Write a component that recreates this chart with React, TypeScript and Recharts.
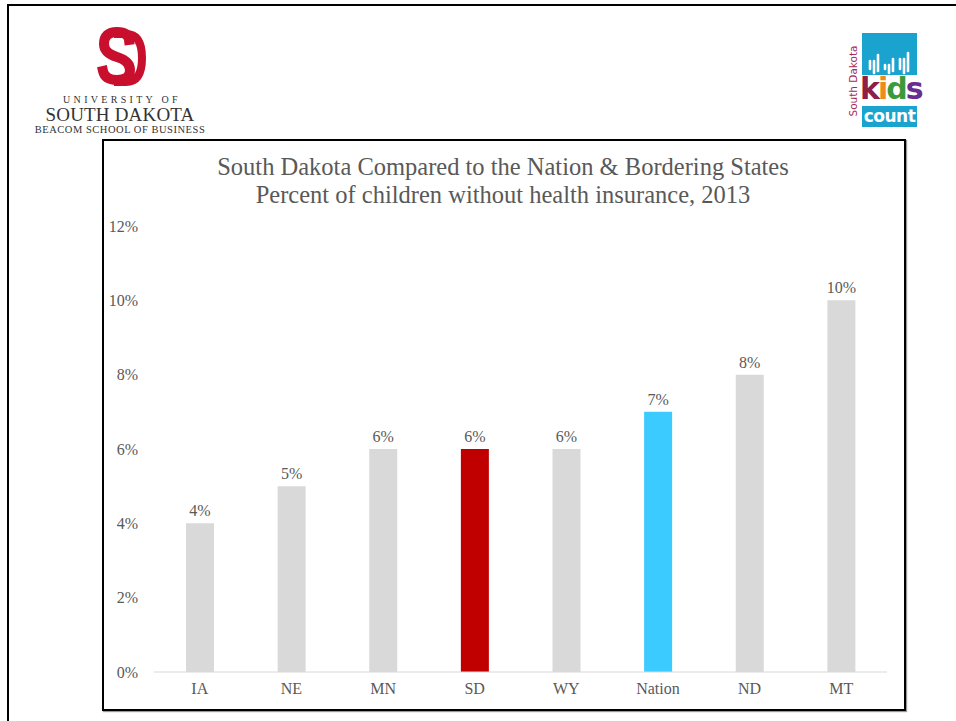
import { BarChart, Bar, XAxis, YAxis, Cell, LabelList } from 'recharts';

const states = ['IA', 'NE', 'MN', 'SD', 'WY', 'Nation', 'ND', 'MT'];
const uninsured = [4, 5, 6, 6, 6, 7, 8, 10];
const barColors = ['#d9d9d9', '#d9d9d9', '#d9d9d9', '#c00000', '#d9d9d9', '#3ccbff', '#d9d9d9', '#d9d9d9'];
const yTicks = [0, 2, 4, 6, 8, 10, 12];

const data = states.map((name, i) => ({ name, value: uninsured[i], color: barColors[i] }));

const serif = '"Liberation Serif", "Times New Roman", serif';
const textGray = '#595959';

function UsdLogo() {
  return (
    <div style={{ position: 'absolute', left: 20, top: 24, width: 200, textAlign: 'center', fontFamily: serif, color: '#333' }}>
      <svg width={60} height={62} viewBox="0 0 60 62" style={{ display: 'block', margin: '0 auto' }}>
        <path d="M24 10 H36 Q52 10 52 34 Q52 58 36 58 H24" fill="none" stroke="#c8102e" strokeWidth={8} />
        <path
          d="M39 16 Q38 8 27 8 Q14 8 14 20 Q14 29 27 33 Q40 37 40 46 Q40 56 27 56 Q15 56 13 47"
          fill="none"
          stroke="#c8102e"
          strokeWidth={10}
          strokeLinecap="square"
        />
      </svg>
      <div style={{ fontSize: 10, letterSpacing: '0.33em', marginTop: 8, lineHeight: '12px', paddingLeft: 4 }}>UNIVERSITY OF</div>
      <div style={{ fontSize: 19, lineHeight: '17px', letterSpacing: '0.01em' }}>SOUTH DAKOTA</div>
      <div style={{ fontSize: 10.5, lineHeight: '13px', letterSpacing: '0.05em' }}>BEACOM SCHOOL OF BUSINESS</div>
    </div>
  );
}

function KidsCountLogo() {
  const hand = (x: number, h: number) => (
    <g key={x} stroke="#fff" strokeWidth={2.6} strokeLinecap="round" fill="none">
      <path d={`M${x} 40 L${x} ${30 - h}`} />
      <path d={`M${x + 4} 38 L${x + 4} ${24 - h}`} />
      <path d={`M${x - 4} 36 L${x - 4} ${30 - h}`} />
    </g>
  );
  return (
    <div style={{ position: 'absolute', left: 844, top: 33, width: 76, height: 95 }}>
      <div style={{ position: 'absolute', left: 18, top: 0, width: 55, height: 42, background: '#1aa3cf' }}>
        <svg width={55} height={42}>
          {hand(12, 2)}
          {hand(27, -2)}
          {hand(42, 4)}
        </svg>
      </div>
      <div style={{ position: 'absolute', left: 16, top: 40, width: 60, height: 33, fontFamily: '"DejaVu Sans", sans-serif', fontWeight: 700, fontSize: 30, lineHeight: '32px', letterSpacing: '-2px', textAlign: 'center' }}>
        <span style={{ color: '#8e1f45' }}>k</span>
        <span style={{ color: '#f08a1c' }}>i</span>
        <span style={{ color: '#3b9a3b' }}>d</span>
        <span style={{ color: '#6a2c8f' }}>s</span>
      </div>
      <div style={{ position: 'absolute', left: 18, top: 73, width: 55, height: 21, background: '#1aa3cf', color: '#fff', fontFamily: '"DejaVu Sans", sans-serif', fontWeight: 700, fontSize: 17, lineHeight: '20px', textAlign: 'center', letterSpacing: '-0.5px' }}>
        count
      </div>
      <div style={{ position: 'absolute', left: -38, top: 42, width: 94, height: 12, transform: 'rotate(-90deg)', color: '#a3285a', fontFamily: '"DejaVu Sans", sans-serif', fontSize: 10.5, lineHeight: '12px', textAlign: 'center' }}>
        South Dakota
      </div>
    </div>
  );
}

export default function App() {
  return (
    <div style={{ position: 'absolute', left: 0, top: 0, width: 956, height: 721, background: '#fff', overflow: 'hidden' }}>
      <div style={{ position: 'absolute', left: 7, top: 4, right: -4, bottom: -4, border: '2px solid #000' }} />
      <UsdLogo />
      <KidsCountLogo />
      <div style={{ position: 'absolute', left: 102, top: 139, width: 800, height: 568, border: '2px solid #000', boxShadow: '1px 1px 1px #999' }} />
      <div style={{ position: 'absolute', left: 103, top: 153, width: 800, textAlign: 'center', fontFamily: serif, fontSize: 24.5, lineHeight: '28px', color: textGray }}>
        <div>South Dakota Compared to the Nation &amp; Bordering States</div>
        <div>Percent of children without health insurance, 2013</div>
      </div>
      <div style={{ position: 'absolute', left: 103, top: 140 }}>
        <BarChart width={800} height={568} data={data} margin={{ top: 86, right: 16, bottom: 6, left: 0 }} barSize={28}>
          <XAxis
            dataKey="name"
            height={30}
            axisLine={{ stroke: '#d9d9d9', strokeWidth: 1 }}
            tickLine={false}
            tickSize={0}
            tickMargin={11}
            tick={{ fill: textGray, fontSize: 16, fontFamily: serif }}
          />
          <YAxis
            width={51}
            domain={[0, 12]}
            ticks={yTicks}
            axisLine={false}
            tickLine={false}
            tickSize={0}
            tickMargin={16}
            tickFormatter={(v: number) => `${v}%`}
            tick={{ fill: textGray, fontSize: 16, fontFamily: serif }}
          />
          <Bar dataKey="value" isAnimationActive={false}>
            {data.map((d, i) => (
              <Cell key={`c-${i}`} fill={d.color} />
            ))}
            <LabelList
              dataKey="value"
              position="top"
              offset={7}
              formatter={(v: number) => `${v}%`}
              style={{ fill: textGray, fontSize: 16, fontFamily: serif }}
            />
          </Bar>
        </BarChart>
      </div>
    </div>
  );
}
